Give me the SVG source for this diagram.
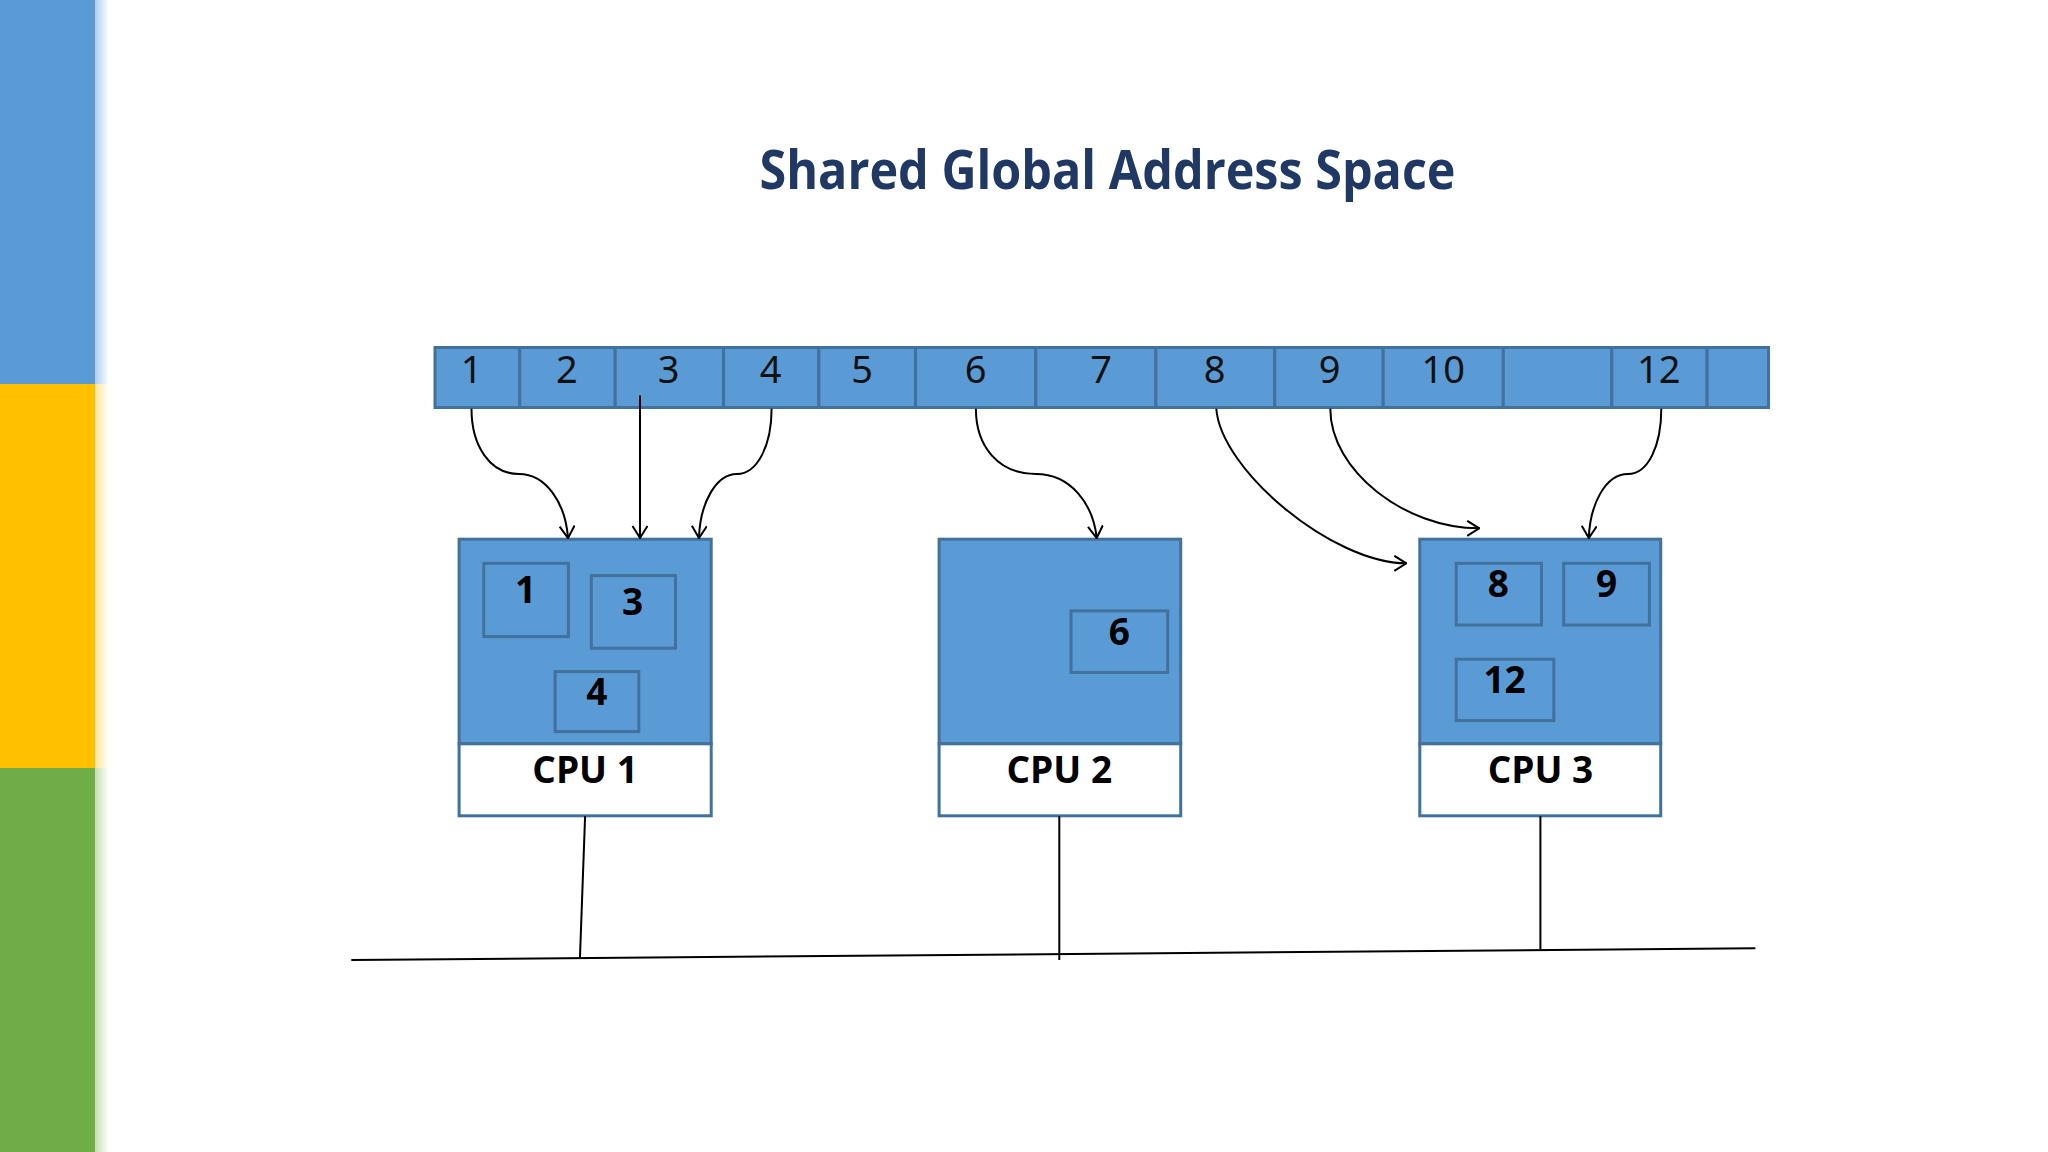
<svg xmlns="http://www.w3.org/2000/svg" width="2048" height="1152" viewBox="0 0 2048 1152">
<defs>
<style>
.cell{fill:#5B9BD5;stroke:#41719C;stroke-width:3}
.box{fill:#5B9BD5;stroke:#41719C;stroke-width:3}
.inner{fill:#5B9BD5;stroke:#41719C;stroke-width:3}
.lab{fill:#FFFFFF;stroke:#41719C;stroke-width:3}
.num{font-family:"Noto Sans","Open Sans",sans-serif;font-size:38px;fill:#111;text-anchor:middle}
.bnum{font-family:"Open Sans","Noto Sans",sans-serif;font-weight:bold;font-size:37px;fill:#000;text-anchor:middle}
.cpu{font-family:"Open Sans","Noto Sans",sans-serif;font-weight:bold;font-size:37px;fill:#000;text-anchor:middle}
.conn{fill:none;stroke:#000;stroke-width:2;marker-end:url(#arr)}
.bus{fill:none;stroke:#000;stroke-width:2}
</style>
<marker id="arr" markerUnits="userSpaceOnUse" viewBox="0 0 14 18" refX="13" refY="8" markerWidth="14" markerHeight="18" orient="auto">
<path d="M1,0.5 L13,8 L1,15.5" fill="none" stroke="#000" stroke-width="2"/>
</marker>
<linearGradient id="gb" x1="0" x2="1" y1="0" y2="0"><stop offset="0" stop-color="#5B9BD5" stop-opacity="0.5"/><stop offset="1" stop-color="#5B9BD5" stop-opacity="0"/></linearGradient>
<linearGradient id="gy" x1="0" x2="1" y1="0" y2="0"><stop offset="0" stop-color="#FFC000" stop-opacity="0.4"/><stop offset="1" stop-color="#FFC000" stop-opacity="0"/></linearGradient>
<linearGradient id="gg" x1="0" x2="1" y1="0" y2="0"><stop offset="0" stop-color="#70AD47" stop-opacity="0.4"/><stop offset="1" stop-color="#70AD47" stop-opacity="0"/></linearGradient>
</defs>
<rect x="0" y="0" width="2048" height="1152" fill="#FFFFFF"/>
<g id="sidebar">
<rect x="0" y="0" width="95" height="384" fill="#5B9BD5"/>
<rect x="0" y="384" width="95" height="384" fill="#FFC000"/>
<rect x="0" y="768" width="95" height="384" fill="#70AD47"/>
<rect x="95" y="0" width="14" height="384" fill="url(#gb)"/>
<rect x="95" y="384" width="14" height="384" fill="url(#gy)"/>
<rect x="95" y="768" width="14" height="384" fill="url(#gg)"/>
</g>
<text id="title" x="1107.5" y="189" font-family="'Open Sans','Noto Sans',sans-serif" font-weight="bold" font-size="54" fill="#203864" text-anchor="middle" textLength="696" lengthAdjust="spacingAndGlyphs">Shared Global Address Space</text>
<g id="address-bar">
<rect class="cell" x="435" y="347.5" width="84.8" height="60"/>
<rect class="cell" x="519.8" y="347.5" width="95.4" height="60"/>
<rect class="cell" x="615.2" y="347.5" width="108.4" height="60"/>
<rect class="cell" x="723.6" y="347.5" width="95.3" height="60"/>
<rect class="cell" x="818.9" y="347.5" width="96.7" height="60"/>
<rect class="cell" x="915.6" y="347.5" width="120.2" height="60"/>
<rect class="cell" x="1035.8" y="347.5" width="120.1" height="60"/>
<rect class="cell" x="1155.9" y="347.5" width="118.9" height="60"/>
<rect class="cell" x="1274.8" y="347.5" width="108.4" height="60"/>
<rect class="cell" x="1383.2" y="347.5" width="120.1" height="60"/>
<rect class="cell" x="1503.3" y="347.5" width="108.5" height="60"/>
<rect class="cell" x="1611.8" y="347.5" width="95.3" height="60"/>
<rect class="cell" x="1707.1" y="347.5" width="61.4" height="60"/>
<text class="num" x="471.5" y="382.5">1</text>
<text class="num" x="566.9" y="382.5">2</text>
<text class="num" x="668.7" y="382.5">3</text>
<text class="num" x="770.6" y="382.5">4</text>
<text class="num" x="862" y="382.5">5</text>
<text class="num" x="975.7" y="382.5">6</text>
<text class="num" x="1101.1" y="382.5">7</text>
<text class="num" x="1214.7" y="382.5">8</text>
<text class="num" x="1329.6" y="382.5">9</text>
<text class="num" x="1443.3" y="382.5">10</text>
<text class="num" x="1658.8" y="382.5">12</text>
</g>
<g id="cpu1">
<rect class="box" x="459.1" y="539.2" width="252.1" height="204.6"/>
<rect class="lab" x="459.1" y="743.8" width="252.1" height="72"/>
<rect class="inner" x="483.8" y="563.3" width="84.6" height="73.3"/>
<rect class="inner" x="591.3" y="575.6" width="84.2" height="72.6"/>
<rect class="inner" x="555.1" y="671.6" width="83.7" height="60"/>
<text class="bnum" x="525.7" y="602.6">1</text>
<text class="bnum" x="632.7" y="614.9">3</text>
<text class="bnum" x="596.9" y="704.9">4</text>
<text class="cpu" x="585.1" y="783">CPU 1</text>
</g>
<g id="cpu2">
<rect class="box" x="939.1" y="539.2" width="241.6" height="204.6"/>
<rect class="lab" x="939.1" y="743.8" width="241.6" height="72"/>
<rect class="inner" x="1071" y="610.9" width="96.7" height="61.6"/>
<text class="bnum" x="1119.3" y="645">6</text>
<text class="cpu" x="1059.3" y="783">CPU 2</text>
</g>
<g id="cpu3">
<rect class="box" x="1419.8" y="539.2" width="240.9" height="204.6"/>
<rect class="lab" x="1419.8" y="743.8" width="240.9" height="72"/>
<rect class="inner" x="1456.2" y="563.3" width="85.3" height="61.7"/>
<rect class="inner" x="1563.7" y="563.3" width="85.7" height="61.7"/>
<rect class="inner" x="1456.2" y="659.2" width="97.6" height="61.4"/>
<text class="bnum" x="1498.4" y="596.6">8</text>
<text class="bnum" x="1606.5" y="596.6">9</text>
<text class="bnum" x="1504.6" y="693.3">12</text>
<text class="cpu" x="1540.4" y="783">CPU 3</text>
</g>
<g id="connectors">
<path class="conn" d="M471.5,408.8 C471.5,446 490,474 519,474 C546,474 565.5,503 568,538"/>
<path class="conn" d="M640,395.5 L640,538"/>
<path class="conn" d="M771.6,408.8 C771.6,446 757,474 737,474 C716,474 700,503 699,538"/>
<path class="conn" d="M975.9,408.8 C975.9,446 998,474 1036,474 C1070,474 1093,503 1096.7,538"/>
<path class="conn" d="M1216.3,408.8 C1220.8,470 1332.5,563.3 1406.3,563.3"/>
<path class="conn" d="M1330.3,408.8 C1330.3,470 1404.1,528.3 1479.2,528.3"/>
<path class="conn" d="M1661.3,408.8 C1661.3,446 1648,474 1628,474 C1605,474 1590,505 1588.8,538"/>
<path class="bus" d="M351.3,960 L1755.4,948.2"/>
<path class="bus" d="M585.1,816 L579.9,959"/>
<path class="bus" d="M1059.3,816 L1059.3,960"/>
<path class="bus" d="M1540.4,816 L1540.4,949.5"/>
</g>
</svg>
